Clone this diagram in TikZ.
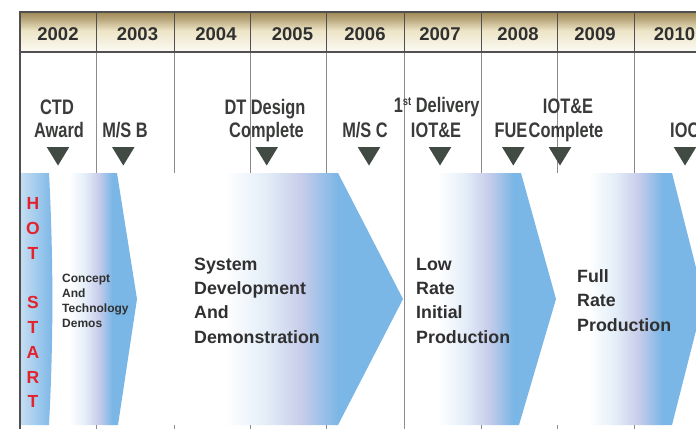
\documentclass[tikz,border=0pt]{standalone}
\usepackage{fontspec}
\setmainfont{Liberation Sans}
\newfontfamily\condfont[FakeStretch=0.78]{Liberation Sans}

% palette
\definecolor{phblue}{RGB}{122,182,230}
\definecolor{phlav}{RGB}{198,204,234}
\definecolor{phpale}{RGB}{228,238,248}
\definecolor{hdrtop}{RGB}{158,136,84}
\definecolor{hdrmid}{RGB}{236,228,198}
\definecolor{hdrbot}{RGB}{252,251,245}
\definecolor{inkgray}{RGB}{48,48,48}
\definecolor{msgray}{RGB}{58,60,58}
\definecolor{trifill}{RGB}{66,74,68}
\definecolor{hotred}{RGB}{226,34,44}
\definecolor{rulegray}{RGB}{80,80,80}
\definecolor{colgray}{RGB}{140,140,140}

% phase band: white on the left, blue toward the chevron
\pgfdeclarehorizontalshading{phasefill}{100bp}{%
  color(0bp)=(white); color(25bp)=(white); color(36bp)=(white);
  color(45bp)=(phpale); color(53bp)=(phlav); color(61bp)=(phblue);
  color(100bp)=(phblue)}
% header band: tan at the top, cream at the bottom
\pgfdeclareverticalshading{hdrfill}{100bp}{%
  color(0bp)=(hdrbot); color(25bp)=(hdrbot); color(52bp)=(hdrmid);
  color(66bp)=(hdrtop!65!hdrmid); color(75bp)=(hdrtop); color(100bp)=(hdrtop)}

\tikzset{
  yr/.style={font=\bfseries\fontsize{18.5}{18.5}\selectfont, text=inkgray,
    anchor=base, inner sep=0pt},
  ms/.style={font=\condfont\bfseries\fontsize{21}{21}\selectfont, text=msgray,
    anchor=base, inner sep=0pt},
  phtext/.style={font=\bfseries\fontsize{17.8}{17.8}\selectfont, text=inkgray,
    anchor=base west, inner sep=0pt},
  smtext/.style={font=\bfseries\fontsize{12}{12}\selectfont, text=inkgray,
    anchor=base west, inner sep=0pt},
  hotletter/.style={font=\bfseries\fontsize{17.5}{17.5}\selectfont, text=hotred,
    anchor=base, inner sep=0pt},
  hdrrule/.style={draw=rulegray, line width=1pt},
  colrule/.style={draw=colgray, line width=0.8pt},
  phase/.style={shading=phasefill},
}

\begin{document}
\begin{tikzpicture}[x=1pt,y=-1pt]
\useasboundingbox (0,0) rectangle (696,429);
\clip (0,0) rectangle (696,429);
\fill[white] (0,0) rectangle (696,429);

% header band
\shade[shading=hdrfill] (20,12) rectangle (700,52);

% column rules
\foreach \x in {96.7,174,250.7,326.7,404.5,481.3,557.3,634} {
  \draw[hdrrule] (\x,12) -- (\x,52);
  \draw[colrule] (\x,52) -- (\x,429);
}

% phase chevrons
\shade[phase] (50,173) -- (117,173) -- (137,299) -- (118,425) -- (50,425) -- cycle;
\shade[phase] (173.5,173) -- (338,173) -- (403,299) -- (338,425) -- (173.5,425) -- cycle;
\shade[phase] (404,173) -- (521,173) -- (556,299) -- (519,425) -- (404,425) -- cycle;
\shade[phase] (556,173) -- (672,173) -- (704,299) -- (672,425) -- (556,425) -- cycle;

% hot start strip
\shade[left color=phpale!70!phblue, middle color=phpale!50!white, right color=phblue]
  (21,173) -- (49,173) .. controls (53.5,260) and (53.5,340) .. (49,425) -- (21,425) -- cycle;

% rule at the 2007 boundary stays visible over the bands
\draw[colrule] (404.5,52) -- (404.5,429);

% frame lines
\draw[rulegray, line width=2pt] (20,12) -- (700,12);
\draw[rulegray, line width=1.5pt] (20,52) -- (700,52);
\draw[rulegray, line width=1.5pt] (20,11) -- (20,429);

% years
\node[yr] (y2002) at (58,40) {2002};
\node[yr] (y2003) at (137.5,40) {2003};
\node[yr] (y2004) at (216,40) {2004};
\node[yr] (y2005) at (292.5,40) {2005};
\node[yr] (y2006) at (365,40) {2006};
\node[yr] (y2007) at (440,40) {2007};
\node[yr] (y2008) at (518,40) {2008};
\node[yr] (y2009) at (595,40) {2009};
\node[yr] (y2010) at (674.5,40) {2010};

% milestone labels
\node[ms] (ctd1) at (57,114.5) {CTD};
\node[ms] (ctd2) at (59,137.8) {Award};
\node[ms] (msb) at (125,137.8) {M/S B};
\node[ms] (dt1) at (265,114.5) {DT Design};
\node[ms] (dt2) at (266.5,137.8) {Complete};
\node[ms] (msc) at (365,137.8) {M/S C};
\node[ms] (dl1) at (436.7,112) {1\raisebox{0.55ex}{\fontsize{12}{12}\selectfont st} Delivery};
\node[ms] (dl2) at (436,137.8) {IOT\&E};
\node[ms] (fue) at (511,137.8) {FUE};
\node[ms] (ic1) at (568,113.3) {IOT\&E};
\node[ms] (ic2) at (566,137.8) {Complete};
\node[ms, anchor=base west] (ioc) at (670,137.8) {IOC};

% milestone markers
\foreach \x in {58,123.3,266.7,369,440,513.3,560,685} {
  \fill[trifill] (\x-11.3,147) -- (\x+11.3,147) -- (\x,165.5) -- cycle;
}

% hot start lettering
\foreach \ch/\yy in {H/209.5,O/234.3,T/259.1,S/308.7,T/333.5,A/358.3,R/383.1,T/407.9} {
  \node[hotletter] at (33,\yy) {\ch};
}

% phase labels
\foreach \t [count=\i from 0] in {Concept,And,Technology,Demos}
  \node[smtext] (ctdlab\i) at (62,282+15.3*\i) {\t};
\foreach \t [count=\i from 0] in {System,Development,And,Demonstration}
  \node[phtext] (sddlab\i) at (194,270+24.4*\i) {\t};
\foreach \t [count=\i from 0] in {Low,Rate,Initial,Production}
  \node[phtext] (lriplab\i) at (416,270+24.4*\i) {\t};
\foreach \t [count=\i from 0] in {Full,Rate,Production}
  \node[phtext] (frplab\i) at (577,282+24.5*\i) {\t};
\end{tikzpicture}
\end{document}
